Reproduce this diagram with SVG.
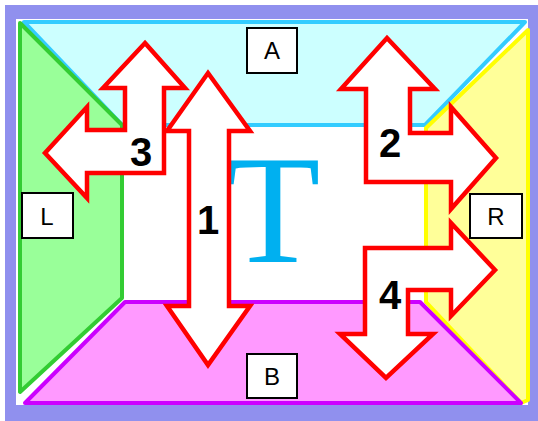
<svg xmlns="http://www.w3.org/2000/svg" width="538" height="421" viewBox="0 0 538 421">
<style>
.zone{stroke-width:4;stroke-linejoin:round}
.arrow{fill:#ffffff;stroke:#ff0000;stroke-width:4.5;stroke-linejoin:miter}
.lbox{fill:#ffffff;stroke:#000000;stroke-width:2}
.ltxt{font-family:"Liberation Sans",Arial,sans-serif;font-size:24px;fill:#000000;text-anchor:middle}
.num{font-family:"Liberation Sans",Arial,sans-serif;font-size:40px;font-weight:bold;fill:#000000;text-anchor:middle}
</style>
<rect x="5" y="5" width="533" height="416" fill="#9090ee"/>
<rect x="16" y="19" width="512" height="386" fill="#ffffff"/>
<g id="zone-A"><polygon class="zone" points="24,22 525,22 425,125 122,125" fill="#ccffff" stroke="#33ccff"/></g>
<g id="zone-R"><polygon class="zone" points="528,30 528,400 521,403 426,302 426,128" fill="#ffff99" stroke="#ffff00"/></g>
<g id="zone-L"><polygon class="zone" points="20,23 122,125 122,298 20,392" fill="#99ff99" stroke="#33cc33"/></g>
<g id="zone-B"><polygon class="zone" points="125,302 420,302 521,403 25,403" fill="#ff99ff" stroke="#cc00ff"/></g>
<g id="T"><text x="273" y="262" font-family="'Liberation Serif','Times New Roman',serif" font-size="155" fill="#00b0f0" text-anchor="middle">T</text></g>
<g id="connectors">
<polygon id="arrow-1" class="arrow" points="208,73 250,131 229,131 229,306 250,306 208,365 167,306 189,306 189,131 167,131"/>
<polygon id="arrow-3" class="arrow" points="145,43 185,88 164,88 164,173 87,173 87,198 45,153 87,107 87,130 125,130 125,88 103,88"/>
<polygon id="arrow-2" class="arrow" points="387,38 435,89 410,89 410,133 451,133 451,107 496,158 451,209 451,182 366,182 366,89 341,89"/>
<polygon id="arrow-4" class="arrow" points="365,248 451,248 451,223 495,270 451,316 451,290 408,290 408,334 433,334 386,378 340,334 365,334"/>
</g>
<g id="label-A"><rect class="lbox" x="247" y="28" width="50" height="45"/><text class="ltxt" x="272" y="59">A</text></g>
<g id="label-L"><rect class="lbox" x="22" y="193" width="51" height="45"/><text class="ltxt" x="47" y="225">L</text></g>
<g id="label-R"><rect class="lbox" x="470" y="194" width="52" height="44"/><text class="ltxt" x="496" y="225">R</text></g>
<g id="label-B"><rect class="lbox" x="247" y="354" width="50" height="44"/><text class="ltxt" x="272" y="385">B</text></g>
<g id="numbers">
<text class="num" x="208" y="234">1</text>
<text class="num" x="390" y="157">2</text>
<text class="num" x="141" y="166">3</text>
<text class="num" x="390" y="309">4</text>
</g>
</svg>
